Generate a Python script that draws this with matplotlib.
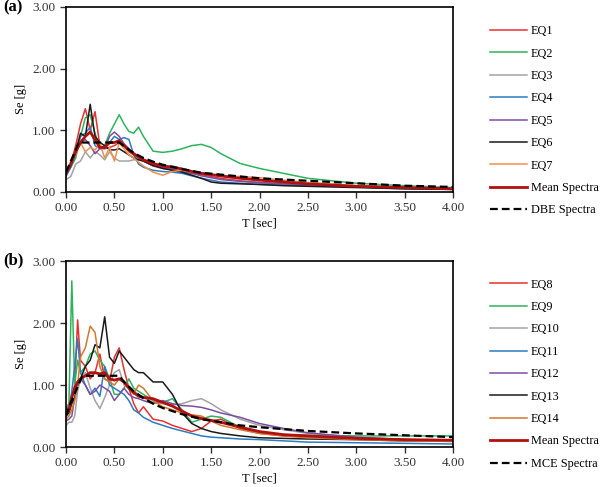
import matplotlib
matplotlib.use("Agg")
import matplotlib.pyplot as plt
from matplotlib.ticker import FormatStrFormatter

# ---- panel (a): DBE-level records --------------------------------------
T_a = [0, .05, .1, .15, .2, .25, .3, .35, .4, .45, .5, .55, .6, .65, .7, .75,
       .8, .9, 1.0, 1.1, 1.2, 1.3, 1.4, 1.5, 1.6, 1.8, 2.0, 2.25, 2.5, 3.0,
       3.5, 4.0]
eq1 = [0.28, 0.45, 0.75, 1.1, 1.35, 1.0, 1.3, 0.75, 0.7, 0.72, 0.75, 0.8,
       0.75, 0.65, 0.6, 0.55, 0.5, 0.42, 0.38, 0.36, 0.33, 0.3, 0.28, 0.25,
       0.22, 0.18, 0.15, 0.13, 0.11, 0.08, 0.06, 0.05]
eq2 = [0.3, 0.4, 0.55, 0.9, 1.2, 1.25, 0.95, 0.7, 0.75, 0.95, 1.1, 1.25,
       1.1, 0.98, 0.95, 1.05, 0.9, 0.66, 0.64, 0.66, 0.7, 0.75, 0.77, 0.72,
       0.62, 0.46, 0.38, 0.3, 0.22, 0.14, 0.1, 0.07]
eq3 = [0.2, 0.25, 0.45, 0.5, 0.65, 0.55, 0.65, 0.6, 0.52, 0.65, 0.55, 0.5,
       0.5, 0.5, 0.52, 0.52, 0.5, 0.45, 0.42, 0.42, 0.38, 0.34, 0.3, 0.28,
       0.25, 0.22, 0.2, 0.17, 0.15, 0.1, 0.08, 0.06]
eq4 = [0.25, 0.4, 0.65, 0.9, 0.95, 1.05, 0.75, 0.7, 0.75, 0.8, 0.9, 0.85,
       0.88, 0.85, 0.6, 0.45, 0.4, 0.35, 0.33, 0.32, 0.3, 0.26, 0.22, 0.19,
       0.16, 0.14, 0.12, 0.11, 0.1, 0.08, 0.05, 0.04]
eq5 = [0.3, 0.45, 0.7, 0.8, 0.85, 0.75, 0.62, 0.7, 0.7, 0.9, 0.97, 0.9,
       0.78, 0.7, 0.6, 0.55, 0.5, 0.42, 0.4, 0.37, 0.33, 0.3, 0.26, 0.23,
       0.2, 0.17, 0.15, 0.13, 0.12, 0.08, 0.06, 0.05]
eq6 = [0.3, 0.45, 0.65, 0.95, 0.9, 1.42, 0.9, 0.8, 0.75, 0.68, 0.68, 0.7,
       0.65, 0.6, 0.55, 0.52, 0.5, 0.43, 0.38, 0.35, 0.32, 0.27, 0.22, 0.16,
       0.14, 0.13, 0.12, 0.1, 0.09, 0.07, 0.05, 0.04]
eq7 = [0.3, 0.5, 0.6, 0.8, 0.65, 0.72, 0.68, 0.78, 0.55, 0.72, 0.5, 0.8,
       0.7, 0.6, 0.55, 0.48, 0.42, 0.32, 0.27, 0.33, 0.35, 0.32, 0.3, 0.28,
       0.25, 0.25, 0.23, 0.19, 0.15, 0.1, 0.07, 0.05]
mean_a = [0.3, 0.45, 0.65, 0.8, 0.9, 0.97, 0.85, 0.72, 0.72, 0.8, 0.8, 0.83,
          0.75, 0.68, 0.62, 0.57, 0.52, 0.46, 0.42, 0.4, 0.37, 0.33, 0.3,
          0.28, 0.26, 0.22, 0.19, 0.16, 0.13, 0.09, 0.07, 0.05]
T_dbe = [0, 0.05, 0.1, 0.13, 0.55, 0.6, 0.7, 0.8, 0.9, 1.0, 1.2, 1.4, 1.6,
         1.8, 2.0, 2.5, 3.0, 3.5, 4.0]
dbe = [0.32, 0.5, 0.68, 0.8, 0.8, 0.74, 0.63, 0.55, 0.49, 0.44, 0.37, 0.31,
       0.28, 0.25, 0.22, 0.18, 0.14, 0.1, 0.08]

# ---- panel (b): MCE-level records --------------------------------------
T_b = [0, .03, .06, .09, .12, .15, .2, .25, .3, .35, .4, .45, .5, .55, .6,
       .65, .7, .75, .8, .9, 1.0, 1.1, 1.2, 1.3, 1.4, 1.5, 1.6, 1.8, 2.0,
       2.25, 2.5, 3.0, 3.5, 4.0]
eq8 = [0.6, 0.7, 0.8, 1.0, 2.05, 1.4, 1.3, 1.1, 1.2, 1.5, 1.1, 1.05, 1.45,
       1.6, 1.25, 0.95, 0.7, 0.55, 0.65, 0.45, 0.42, 0.35, 0.3, 0.25, 0.3,
       0.42, 0.45, 0.3, 0.22, 0.18, 0.16, 0.14, 0.12, 0.11]
eq9 = [0.55, 0.7, 2.68, 1.0, 1.4, 1.2, 1.3, 1.5, 1.55, 1.4, 1.3, 1.1, 0.85,
       0.85, 0.95, 1.1, 0.95, 0.9, 0.85, 0.75, 0.72, 0.78, 0.6, 0.4, 0.45,
       0.5, 0.48, 0.32, 0.24, 0.2, 0.19, 0.18, 0.18, 0.18]
eq10 = [0.35, 0.4, 0.4, 0.5, 0.9, 1.1, 1.2, 0.95, 0.75, 0.62, 0.8, 1.0, 1.2,
        1.25, 1.0, 0.95, 0.9, 0.85, 0.8, 0.72, 0.7, 0.68, 0.7, 0.75, 0.78,
        0.7, 0.6, 0.45, 0.35, 0.28, 0.22, 0.15, 0.12, 0.1]
eq11 = [0.65, 0.6, 0.9, 1.3, 1.75, 1.2, 1.0, 0.85, 0.95, 0.82, 1.3, 1.0,
        0.95, 0.9, 0.85, 0.75, 0.6, 0.55, 0.48, 0.4, 0.35, 0.3, 0.26, 0.22,
        0.18, 0.16, 0.15, 0.13, 0.12, 0.1, 0.08, 0.07, 0.06, 0.05]
eq12 = [0.42, 0.45, 0.5, 0.8, 1.0, 1.1, 1.0, 0.85, 0.9, 1.0, 0.95, 0.9,
        0.75, 0.85, 0.95, 0.85, 0.8, 0.78, 0.75, 0.7, 0.75, 0.7, 0.67, 0.66,
        0.64, 0.6, 0.55, 0.48, 0.38, 0.3, 0.23, 0.16, 0.12, 0.1]
eq13 = [0.5, 0.55, 0.7, 0.8, 1.0, 1.1, 1.3, 1.4, 1.65, 1.6, 2.1, 1.45, 1.35,
        1.55, 1.45, 1.35, 1.25, 1.2, 1.2, 1.05, 1.05, 0.85, 0.55, 0.38, 0.3,
        0.25, 0.22, 0.18, 0.15, 0.14, 0.13, 0.12, 0.1, 0.1]
eq14 = [0.45, 0.5, 0.6, 0.75, 1.0, 1.45, 1.6, 1.95, 1.85, 1.3, 1.1, 1.05,
        1.0, 1.1, 1.05, 0.95, 0.85, 1.0, 0.95, 0.75, 0.65, 0.6, 0.55, 0.52,
        0.5, 0.42, 0.35, 0.28, 0.22, 0.18, 0.15, 0.12, 0.1, 0.09]
mean_b = [0.55, 0.6, 0.8, 0.95, 1.05, 1.1, 1.15, 1.2, 1.2, 1.18, 1.2, 1.1,
          1.08, 1.1, 1.05, 0.95, 0.88, 0.82, 0.8, 0.78, 0.72, 0.66, 0.58,
          0.5, 0.46, 0.43, 0.4, 0.32, 0.25, 0.2, 0.18, 0.14, 0.12, 0.11]
T_mce = [0, 0.04, 0.1, 0.17, 0.55, 0.6, 0.7, 0.8, 0.9, 1.0, 1.2, 1.4, 1.6,
         1.8, 2.0, 2.5, 3.0, 3.5, 4.0]
mce = [0.5, 0.68, 0.9, 1.15, 1.15, 1.05, 0.9, 0.79, 0.7, 0.63, 0.53, 0.45,
       0.4, 0.35, 0.32, 0.26, 0.22, 0.19, 0.16]

colours = ["#E8312F", "#2DB35E", "#A3A3A3", "#2E7BBF", "#7B4EA3", "#1A1A1A"]

plt.rcParams["font.family"] = ["Liberation Serif", "DejaVu Serif"]

fig = plt.figure(figsize=(6.0, 4.87), dpi=100)
ax_a = fig.add_axes([0.11, 0.606, 0.645, 0.38])
ax_b = fig.add_axes([0.11, 0.082, 0.645, 0.382])


def draw(ax, T, records, mean, names, orange, T_code, code, code_name,
         legend_y):
    for vals, name, c in zip(records, names, colours + [orange]):
        ax.plot(T, vals, color=c, lw=1.1, label=name)
    ax.plot(T, mean, color="#B0100F", lw=2.0, label="Mean Spectra")
    ax.plot(T_code, code, "--", color="black", lw=1.6, dashes=(3.5, 1.8),
            label=code_name)
    ax.set_xlim(0, 4)
    ax.set_ylim(0, 3)
    ax.set_xticks([0, 0.5, 1, 1.5, 2, 2.5, 3, 3.5, 4])
    ax.set_yticks([0, 1, 2, 3])
    ax.xaxis.set_major_formatter(FormatStrFormatter("%.2f"))
    ax.yaxis.set_major_formatter(FormatStrFormatter("%.2f"))
    ax.tick_params(direction="out", length=4, width=1, labelsize=9.5,
                   colors="#333333", labelcolor="#333333")
    for s in ax.spines.values():
        s.set_linewidth(1.2)
    ax.set_xlabel("T [sec]", fontsize=9, labelpad=2)
    ax.set_ylabel("Se [g]", fontsize=9, labelpad=4)
    ax.legend(loc="upper left", bbox_to_anchor=(1.096, legend_y),
              frameon=False, borderpad=0, borderaxespad=0, handlelength=3.0,
              handletextpad=0.32, labelspacing=0.85, fontsize=8.8)


draw(ax_a, T_a, [eq1, eq2, eq3, eq4, eq5, eq6, eq7], mean_a,
     ["EQ1", "EQ2", "EQ3", "EQ4", "EQ5", "EQ6", "EQ7"], "#F0914A",
     T_dbe, dbe, "DBE Spectra", 0.90)
draw(ax_b, T_b, [eq8, eq9, eq10, eq11, eq12, eq13, eq14], mean_b,
     ["EQ8", "EQ9", "EQ10", "EQ11", "EQ12", "EQ13", "EQ14"], "#D2782F",
     T_mce, mce, "MCE Spectra", 0.905)

fig.text(0.005, 0.985, "(a)", fontsize=12, fontweight="bold", va="center")
fig.text(0.005, 0.465, "(b)", fontsize=12, fontweight="bold", va="center")

fig.savefig("out.png", dpi=100)
